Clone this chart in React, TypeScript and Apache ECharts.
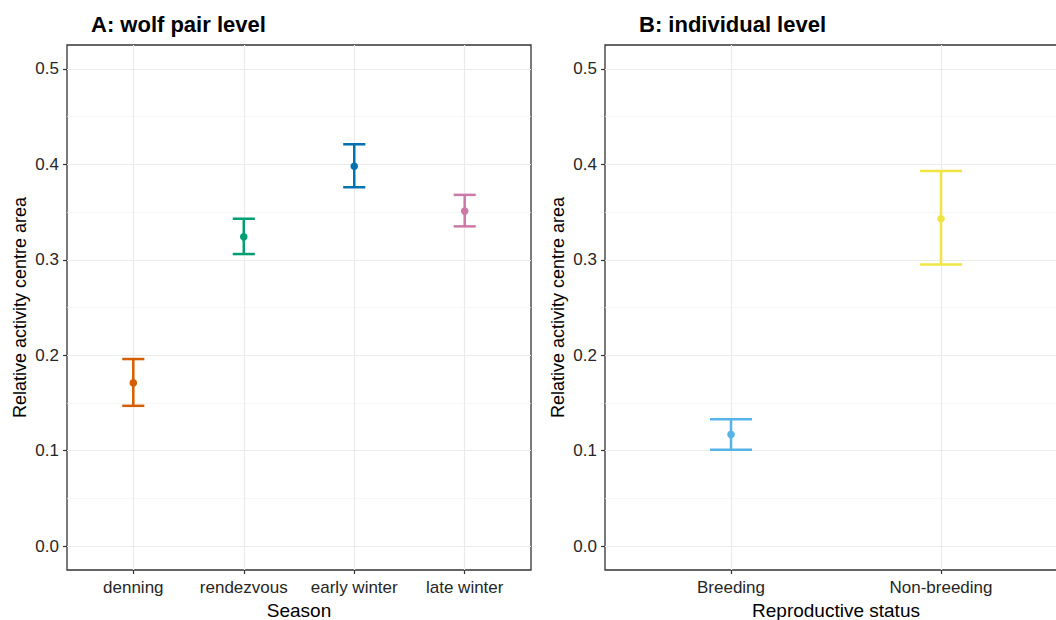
import React, { useEffect, useRef } from "react";
import * as echarts from "echarts";

const seasons = ["denning", "rendezvous", "early winter", "late winter"];
const seasonMean = [0.171, 0.324, 0.398, 0.351];
const seasonLower = [0.147, 0.306, 0.376, 0.335];
const seasonUpper = [0.196, 0.343, 0.421, 0.368];
const seasonColors = ["#D55E00", "#009E73", "#0072B2", "#CC79A7"];

const statuses = ["Breeding", "Non-breeding"];
const statusMean = [0.117, 0.343];
const statusLower = [0.101, 0.295];
const statusUpper = [0.133, 0.393];
const statusColors = ["#56B4E9", "#F0E442"];

const yMajor = [0, 0.1, 0.2, 0.3, 0.4, 0.5];
const yMinor = [0.05, 0.15, 0.25, 0.35, 0.45];
const yLabels = ["0.0", "0.1", "0.2", "0.3", "0.4", "0.5"];

const FONT = "'Liberation Sans', Arial, sans-serif";
const TEXT = "#262626";

function buildData(means: number[], lows: number[], highs: number[]) {
  return means.map((m, i) => [i + 1, m, lows[i], highs[i]]);
}

function errorBarRender(colors: string[]) {
  return (params: any, api: any) => {
    const x = api.value(0);
    const m = api.value(1);
    const lo = api.value(2);
    const hi = api.value(3);
    const c = colors[params.dataIndex];
    const top = api.coord([x, hi]);
    const bot = api.coord([x, lo]);
    const mid = api.coord([x, m]);
    const capL = api.coord([x - 0.1, hi]);
    const capR = api.coord([x + 0.1, hi]);
    const capLb = api.coord([x - 0.1, lo]);
    const capRb = api.coord([x + 0.1, lo]);
    const ls = { stroke: c, lineWidth: 2.5 };
    return {
      type: "group",
      children: [
        { type: "line", shape: { x1: top[0], y1: top[1], x2: bot[0], y2: bot[1] }, style: ls },
        { type: "line", shape: { x1: capL[0], y1: capL[1], x2: capR[0], y2: capR[1] }, style: ls },
        { type: "line", shape: { x1: capLb[0], y1: capLb[1], x2: capRb[0], y2: capRb[1] }, style: ls },
        { type: "circle", shape: { cx: mid[0], cy: mid[1], r: 3.8 }, style: { fill: c } },
      ],
    };
  };
}

function xAxisFor(gridIndex: number, cats: string[], name: string) {
  const vals = cats.map((_, i) => i + 1);
  return {
    type: "value",
    gridIndex,
    min: 0.4,
    max: cats.length + 0.6,
    name,
    nameLocation: "middle",
    nameGap: 28,
    nameTextStyle: { fontFamily: FONT, fontSize: 19, lineHeight: 20, color: "#000" },
    axisLine: { show: false, onZero: false },
    axisTick: { show: true, length: 4, customValues: vals, lineStyle: { color: "#333", width: 1.2 } },
    axisLabel: {
      customValues: vals,
      margin: 9,
      fontFamily: FONT,
      fontSize: 17,
      color: TEXT,
      formatter: (v: number) => cats[Math.round(v) - 1] ?? "",
    },
    splitLine: { show: true, lineStyle: { color: "#EBEBEB", width: 1.2 } },
  };
}

function yAxesFor(gridIndex: number) {
  return [
    {
      type: "value",
      gridIndex,
      min: -0.025,
      max: 0.525,
      name: "Relative activity centre area",
      nameLocation: "middle",
      nameGap: 38,
      nameTextStyle: { fontFamily: FONT, fontSize: 18, color: "#000" },
      axisLine: { show: false, onZero: false },
      axisTick: { show: true, length: 4, customValues: yMajor, lineStyle: { color: "#333", width: 1.2 } },
      axisLabel: {
        customValues: yMajor,
        margin: 8,
        fontFamily: FONT,
        fontSize: 17,
        color: TEXT,
        formatter: (v: number) => yLabels[Math.round(v * 10)] ?? "",
      },
      splitLine: { show: true, lineStyle: { color: "#EBEBEB", width: 1.2 } },
    },
    {
      type: "value",
      gridIndex,
      position: "left",
      min: -0.025,
      max: 0.525,
      axisLine: { show: false, onZero: false },
      axisTick: { show: false, customValues: yMinor },
      axisLabel: { show: false, customValues: yMinor },
      splitLine: { show: true, lineStyle: { color: "#F2F2F2", width: 0.7 } },
    },
  ];
}

export default function App() {
  const ref = useRef<HTMLDivElement>(null);
  useEffect(() => {
    if (!ref.current) return;
    const chart = echarts.init(ref.current, undefined, { renderer: "svg" });
    const yA = yAxesFor(0);
    const yB = yAxesFor(1);
    const titleStyle = { fontFamily: FONT, fontSize: 22, fontWeight: "bold", color: "#000" };
    chart.setOption({
      animation: false,
      backgroundColor: "#fff",
      title: [
        { text: "A: wolf pair level", left: 91, top: 13, padding: 0, textStyle: titleStyle },
        { text: "B: individual level", left: 639, top: 13, padding: 0, textStyle: titleStyle },
      ],
      grid: [
        { left: 67, top: 45, width: 464, height: 525, show: true, borderColor: "#333", borderWidth: 1.3, backgroundColor: "#fff", containLabel: false, outerBoundsMode: "none" },
        { left: 605, top: 45, width: 462, height: 525, show: true, borderColor: "#333", borderWidth: 1.3, backgroundColor: "#fff", containLabel: false, outerBoundsMode: "none" },
      ],
      xAxis: [xAxisFor(0, seasons, "Season"), xAxisFor(1, statuses, "Reproductive status")],
      yAxis: [...yA, ...yB],
      series: [
        {
          type: "custom",
          xAxisIndex: 0,
          yAxisIndex: 0,
          renderItem: errorBarRender(seasonColors),
          data: buildData(seasonMean, seasonLower, seasonUpper),
          z: 10,
        },
        {
          type: "custom",
          xAxisIndex: 1,
          yAxisIndex: 2,
          renderItem: errorBarRender(statusColors),
          data: buildData(statusMean, statusLower, statusUpper),
          z: 10,
        },
      ],
    });
    return () => chart.dispose();
  }, []);
  return (
    <div style={{ position: "fixed", left: 0, top: 0, width: 1056, height: 620, overflow: "hidden", background: "#fff" }}>
      <div ref={ref} style={{ position: "absolute", left: 0, top: 0, width: 1080, height: 620 }} />
    </div>
  );
}
